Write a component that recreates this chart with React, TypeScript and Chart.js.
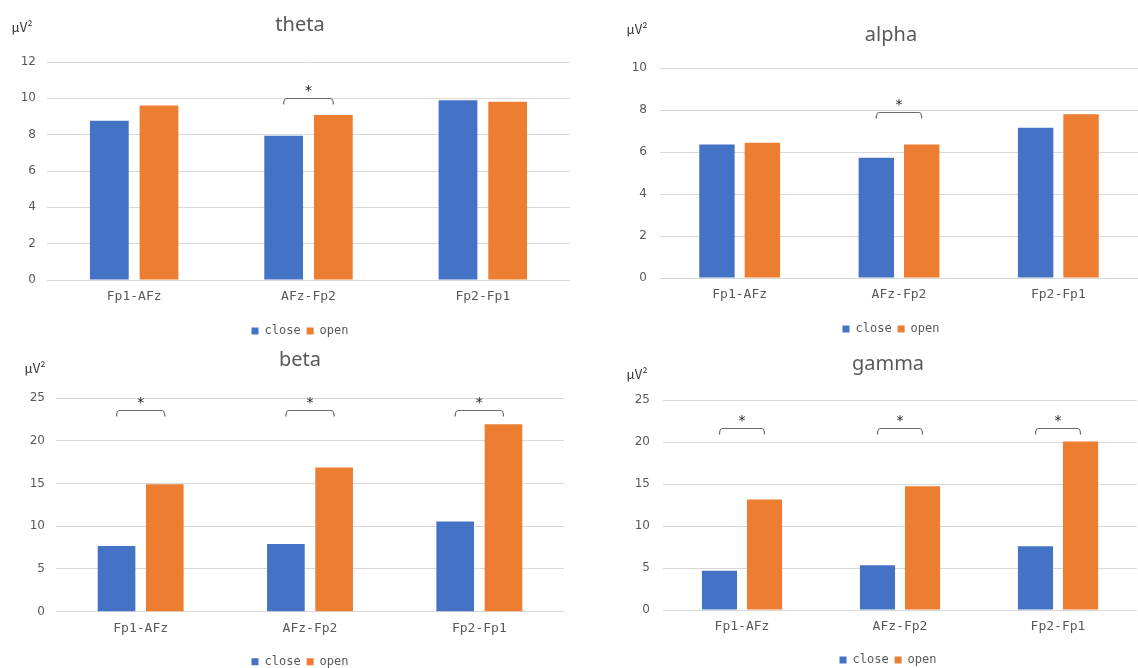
import React, { useEffect, useRef } from "react";
import { Chart, registerables } from "chart.js";
Chart.register(...registerables);

// ---------- data ----------
const categories = ["Fp1-AFz", "AFz-Fp2", "Fp2-Fp1"];
const seriesNames = ["close", "open"];

const thetaClose = [8.77, 7.94, 9.9];
const thetaOpen = [9.61, 9.08, 9.81];
const alphaClose = [6.36, 5.73, 7.16];
const alphaOpen = [6.44, 6.36, 7.8];
const betaClose = [7.69, 7.93, 10.54];
const betaOpen = [14.92, 16.86, 21.94];
const gammaClose = [4.67, 5.34, 7.6];
const gammaOpen = [13.15, 14.73, 20.07];

// y-axis ranges: [max, step]
const thetaAxis = [12, 2];
const alphaAxis = [10, 2];
const betaAxis = [25, 5];
const gammaAxis = [25, 5];

// significance brackets: category index and bracket level (µV²)
const thetaSigCats = [1];
const thetaSigLevels = [10.0];
const alphaSigCats = [1];
const alphaSigLevels = [7.9];
const betaSigCats = [0, 1, 2];
const betaSigLevels = [23.6, 23.6, 23.6];
const gammaSigCats = [0, 1, 2];
const gammaSigLevels = [21.7, 21.7, 21.7];

const unitLabel = "μV²";
const sigMark = "*";

// ---------- styles / layout ----------
const BLUE = "#4472C4";
const ORANGE = "#ED7D31";
const TEXT = "#595959";
const GRID = "#d9d9d9";

type Layout = {
  left: number; top: number; width: number; height: number;
  padR: number; padB: number; yW: number;
  boxL: number; boxR: number;
  titleTop: number; titleBottom: number; xH: number;
  yPad: number; ux: number; uy: number;
};

const panels = [
  {
    title: "theta", close: thetaClose, open: thetaOpen, axis: thetaAxis,
    sigCats: thetaSigCats, sigLevels: thetaSigLevels,
    layout: { left: 0, top: 0, width: 570, height: 340, padR: 0, padB: -7, yW: 47, boxL: 30, boxR: 570,
      titleTop: 13, titleBottom: 25, xH: 39, yPad: 11, ux: 22, uy: 27 } as Layout,
  },
  {
    title: "alpha", close: alphaClose, open: alphaOpen, axis: alphaAxis,
    sigCats: alphaSigCats, sigLevels: alphaSigLevels,
    layout: { left: 570, top: 0, width: 568, height: 340, padR: 0, padB: -5, yW: 90, boxL: 74, boxR: 568,
      titleTop: 23, titleBottom: 21, xH: 39, yPad: 13, ux: 67, uy: 29 } as Layout,
  },
  {
    title: "beta", close: betaClose, open: betaOpen, axis: betaAxis,
    sigCats: betaSigCats, sigLevels: betaSigLevels,
    layout: { left: 0, top: 340, width: 570, height: 328, padR: 6, padB: -9.7, yW: 56, boxL: 36, boxR: 564,
      titleTop: 8, titleBottom: 26, xH: 38, yPad: 11, ux: 35, uy: 28 } as Layout,
  },
  {
    title: "gamma", close: gammaClose, open: gammaOpen, axis: gammaAxis,
    sigCats: gammaSigCats, sigLevels: gammaSigLevels,
    layout: { left: 570, top: 340, width: 568, height: 328, padR: 1, padB: -8, yW: 93, boxL: 69, boxR: 567,
      titleTop: 12, titleBottom: 24, xH: 38, yPad: 13, ux: 67, uy: 34 } as Layout,
  },
];

const annotPlugin = {
  id: "annot",
  afterLayout(chart: any, _args: any, opts: any) {
    // centre title and legend over the panel the way the original does
    if (chart.titleBlock) { chart.titleBlock.left = opts.boxL; chart.titleBlock.right = opts.boxR; }
    if (chart.legend) { chart.legend.left = opts.boxL; chart.legend.right = opts.boxR; }
  },
  afterDatasetsDraw(chart: any, _args: any, opts: any) {
    const { ctx } = chart;
    const y = chart.scales.y;
    const m0 = chart.getDatasetMeta(0);
    const m1 = chart.getDatasetMeta(1);
    ctx.save();
    (opts.sigCats || []).forEach((ci: number, k: number) => {
      const x1 = m0.data[ci].x;
      const x2 = m1.data[ci].x;
      const yl = Math.round(y.getPixelForValue(opts.sigLevels[k])) + 0.5;
      ctx.strokeStyle = "#6b6b6b";
      ctx.lineWidth = 1.2;
      ctx.beginPath();
      ctx.moveTo(x1, yl + 6);
      ctx.quadraticCurveTo(x1, yl, x1 + 3, yl);
      ctx.lineTo(x2 - 3, yl);
      ctx.quadraticCurveTo(x2, yl, x2, yl + 6);
      ctx.stroke();
      ctx.fillStyle = "#222222";
      ctx.font = "14px 'DejaVu Sans'";
      ctx.textAlign = "center";
      ctx.textBaseline = "middle";
      ctx.fillText(sigMark, (x1 + x2) / 2, yl - 7);
    });
    ctx.fillStyle = "#333333";
    ctx.font = "13px 'Noto Sans CJK JP'";
    ctx.textAlign = "center";
    ctx.textBaseline = "middle";
    ctx.fillText(unitLabel, opts.ux, opts.uy);
    ctx.restore();
  },
};

function Panel({ p }: { p: (typeof panels)[number] }) {
  const ref = useRef<HTMLCanvasElement | null>(null);
  useEffect(() => {
    if (!ref.current) return;
    const L = p.layout;
    const chart = new Chart(ref.current, {
      type: "bar",
      data: {
        labels: categories,
        datasets: [
          { label: seriesNames[0], data: p.close, backgroundColor: BLUE, categoryPercentage: 0.57, barPercentage: 0.78 },
          { label: seriesNames[1], data: p.open, backgroundColor: ORANGE, categoryPercentage: 0.57, barPercentage: 0.78 },
        ],
      },
      options: {
        animation: false,
        responsive: false,
        layout: { padding: { left: 0, right: L.padR, top: 0, bottom: L.padB } },
        scales: {
          x: {
            grid: { display: false, drawTicks: false },
            border: { display: false },
            ticks: { color: TEXT, padding: 9, font: { family: "'DejaVu Sans Mono'", size: 13 } },
            afterFit: (s: any) => { s.height = L.xH; },
          },
          y: {
            min: 0,
            max: p.axis[0],
            grid: { color: GRID, lineWidth: 1, drawTicks: false },
            border: { display: false },
            ticks: { stepSize: p.axis[1], color: TEXT, padding: L.yPad, font: { family: "'DejaVu Sans'", size: 12 } },
            afterFit: (s: any) => { s.width = L.yW; },
          },
        },
        plugins: {
          title: {
            display: true,
            text: p.title,
            color: TEXT,
            font: { family: "'Noto Sans'", size: 20, weight: "normal" },
            padding: { top: L.titleTop, bottom: L.titleBottom },
          },
          legend: {
            display: true,
            position: "bottom",
            labels: {
              boxWidth: 7,
              boxHeight: 7,
              padding: 6,
              color: TEXT,
              font: { family: "'DejaVu Sans Mono'", size: 12 },
            },
          },
          tooltip: { enabled: false },
          annot: { sigCats: p.sigCats, sigLevels: p.sigLevels, ux: L.ux, uy: L.uy, boxL: L.boxL, boxR: L.boxR },
        } as any,
      },
      plugins: [annotPlugin],
    });
    return () => chart.destroy();
  }, [p]);
  const L = p.layout;
  return (
    <div style={{ position: "absolute", left: L.left, top: L.top, width: L.width, height: L.height }}>
      <canvas ref={ref} width={L.width} height={L.height} style={{ width: L.width, height: L.height, display: "block" }} />
    </div>
  );
}

export default function App() {
  return (
    <div style={{ position: "fixed", left: 0, top: 0, width: 1138, height: 668, background: "#ffffff", overflow: "hidden" }}>
      {panels.map((p) => (
        <Panel key={p.title} p={p} />
      ))}
    </div>
  );
}
